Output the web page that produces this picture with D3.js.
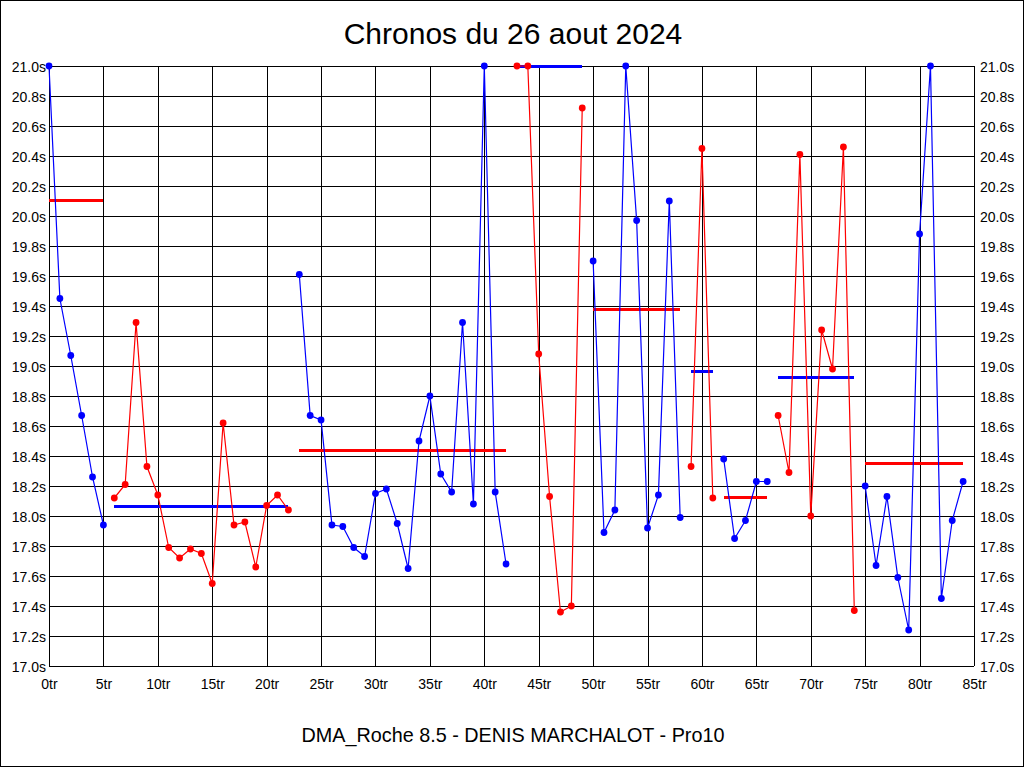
<!DOCTYPE html>
<html>
<head>
<meta charset="utf-8">
<script src="https://cdn.jsdelivr.net/npm/d3@7"></script>
<style>
  html, body { margin: 0; padding: 0; background: #fff; }
  svg { display: block; }
  text { font-family: "Liberation Sans", Arial, sans-serif; fill: #000; }
</style>
</head>
<body>
<svg id="chart" width="1024" height="768"></svg>
<script>
// ---- data ----
const title = "Chronos du 26 aout 2024";
const subtitle = "DMA_Roche 8.5 - DENIS MARCHALOT - Pro10";

const laps = d3.range(0, 85);
const lapTimes = [
  21.00, 19.45, 19.07, 18.67, 18.26, 17.94,
  18.12, 18.21, 19.29, 18.33, 18.14, 17.79, 17.72, 17.78, 17.75, 17.55, 18.62, 17.94, 17.96, 17.66, 18.07, 18.14, 18.04,
  19.61, 18.67, 18.64, 17.94, 17.93, 17.79, 17.73, 18.15, 18.18, 17.95, 17.65, 18.50, 18.80, 18.28, 18.16, 19.29, 18.08, 21.00, 18.16, 17.68,
  21.00, 21.00, 19.08, 18.13, 17.36, 17.40, 20.72,
  19.70, 17.89, 18.04, 21.00, 19.97, 17.92, 18.14, 20.10, 17.99,
  18.33, 20.45, 18.12,
  18.38, 17.85, 17.97, 18.23, 18.23,
  18.67, 18.29, 20.41, 18.00, 19.24, 18.98, 20.46, 17.37,
  18.20, 17.67, 18.13, 17.59, 17.24, 19.88, 21.00, 17.45, 17.97, 18.23
];

// stints: first lap, last lap, average shown
const stintStart = [0, 6, 23, 43, 50, 59, 62, 67, 75];
const stintEnd   = [5, 22, 42, 49, 58, 61, 66, 74, 84];
const stintAvg   = [20.11, 18.07, 18.44, 21.00, 19.38, 18.97, 18.13, 18.93, 18.35];

const xTicks = [0, 5, 10, 15, 20, 25, 30, 35, 40, 45, 50, 55, 60, 65, 70, 75, 80, 85];
const yTicks = [17.0, 17.2, 17.4, 17.6, 17.8, 18.0, 18.2, 18.4, 18.6, 18.8, 19.0,
                19.2, 19.4, 19.6, 19.8, 20.0, 20.2, 20.4, 20.6, 20.8, 21.0];

// ---- drawing ----
const svg = d3.select("#chart");
const L = 49, R = 974, T = 66, B = 666;
const BLUE = "#0000ff", RED = "#ff0000";

const x = d3.scaleLinear().domain([0, 85]).range([L, R]);
const y = d3.scaleLinear().domain([17, 21]).range([B, T]);

svg.append("rect")
  .attr("x", 0.5).attr("y", 0.5).attr("width", 1023).attr("height", 766)
  .attr("fill", "#fff").attr("stroke", "#000");

// grid + left labels
const gy = svg.append("g").attr("transform", `translate(${L},0)`)
  .call(d3.axisLeft(y).tickValues(yTicks).tickSize(-(R - L)).tickPadding(3)
        .tickFormat(d => d.toFixed(1) + "s"));
gy.select(".domain").remove();
gy.selectAll("line").attr("stroke", "#000").attr("shape-rendering", "crispEdges");
gy.selectAll("text").attr("font-size", 14).attr("dy", "0.4em")
  .attr("font-family", "'Liberation Sans', Arial, sans-serif");

// right labels
const gyr = svg.append("g").attr("transform", `translate(${R},0)`)
  .call(d3.axisRight(y).tickValues(yTicks).tickSize(0).tickPadding(6)
        .tickFormat(d => d.toFixed(1) + "s"));
gyr.select(".domain").remove();
gyr.selectAll("text").attr("font-size", 14).attr("dy", "0.4em")
  .attr("font-family", "'Liberation Sans', Arial, sans-serif");

// vertical grid + bottom labels
const gx = svg.append("g").attr("transform", `translate(0,${B})`)
  .call(d3.axisBottom(x).tickValues(xTicks).tickSize(-(B - T)).tickPadding(13)
        .tickFormat(d => d + "tr"));
gx.select(".domain").remove();
gx.selectAll("line").attr("stroke", "#000").attr("shape-rendering", "crispEdges");
gx.selectAll("text").attr("font-size", 14)
  .attr("font-family", "'Liberation Sans', Arial, sans-serif");

// stints
const stints = stintStart.map((s, i) => ({
  start: s, end: stintEnd[i], avg: stintAvg[i],
  color: i % 2 === 0 ? BLUE : RED,
  avgColor: i % 2 === 0 ? RED : BLUE,
  pts: laps.filter(l => l >= s && l <= stintEnd[i]).map(l => ({ lap: l, t: lapTimes[l] }))
}));

const line = d3.line().x(d => x(d.lap)).y(d => y(d.t));

// average lines
svg.append("g").selectAll("line").data(stints).join("line")
  .attr("x1", d => x(d.start)).attr("x2", d => x(d.end))
  .attr("y1", d => Math.round(y(d.avg)) + 0.5).attr("y2", d => Math.round(y(d.avg)) + 0.5)
  .attr("stroke", d => d.avgColor).attr("stroke-width", 3)
  .attr("shape-rendering", "crispEdges");

// lap lines
svg.append("g").selectAll("path").data(stints).join("path")
  .attr("d", d => line(d.pts))
  .attr("fill", "none").attr("stroke", d => d.color).attr("stroke-width", 1.2);

// points
const pg = svg.append("g");
stints.forEach(s => {
  pg.selectAll(null).data(s.pts).join("circle")
    .attr("cx", d => x(d.lap)).attr("cy", d => y(d.t)).attr("r", 3.4)
    .attr("fill", s.color);
});

// titles
svg.append("text").attr("x", 513).attr("y", 44).attr("text-anchor", "middle")
  .attr("font-size", 30).text(title);
svg.append("text").attr("x", 513).attr("y", 742).attr("text-anchor", "middle")
  .attr("font-size", 19.8).text(subtitle);
</script>
</body>
</html>
